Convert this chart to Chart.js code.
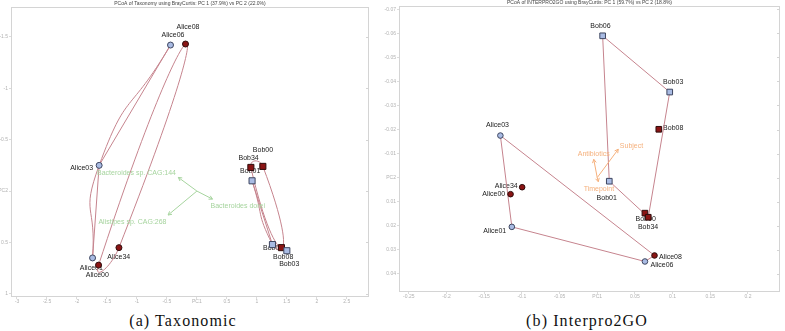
<!DOCTYPE html>
<html><head><meta charset="utf-8">
<script src="https://cdn.jsdelivr.net/npm/chart.js@4.4.0/dist/chart.umd.min.js"></script>
<style>
body{margin:0;background:#fff;width:785px;height:331px;overflow:hidden;position:relative;font-family:"Liberation Sans",Arial,sans-serif}
#c1{position:absolute;left:0;top:0}
#c2{position:absolute;left:372px;top:0}
.cap{position:absolute;font-family:"Liberation Serif","Times New Roman",serif;font-size:16px;line-height:16px;letter-spacing:1.1px;color:#111;white-space:nowrap;transform:translateX(-50%)}
</style></head><body>
<canvas id="c1" width="390" height="306"></canvas>
<canvas id="c2" width="413" height="300"></canvas>
<div class="cap" style="left:183px;top:313px">(a) Taxonomic</div>
<div class="cap" style="left:587px;top:313px">(b) Interpro2GO</div>
<script>
// ---------- data ----------
const samples  = ['Alice00','Alice01','Alice03','Alice06','Alice08','Alice34','Bob00','Bob01','Bob03','Bob06','Bob08','Bob34'];
const subject  = ['Alice','Alice','Alice','Alice','Alice','Alice','Bob','Bob','Bob','Bob','Bob','Bob'];
const darkGroup = [1,0,0,0,1,1, 1,0,0,0,1,1];

const taxPC1 = [-1.64,-1.74,-1.63,-0.44,-0.19,-1.30, 1.10, 0.92, 1.50, 1.26, 1.41, 0.90];
const taxPC2 = [ 0.72, 0.65,-0.25,-1.42,-1.43, 0.55,-0.24,-0.10, 0.58, 0.52, 0.55,-0.23];
const iprPC1 = [-0.1150,-0.1133,-0.1285, 0.0633, 0.0760,-0.0996, 0.0633, 0.0160, 0.0962, 0.0072, 0.0817, 0.0677];
const iprPC2 = [ 0.0069, 0.0205,-0.0175, 0.0349, 0.0324, 0.0040, 0.0148, 0.0015,-0.0356,-0.0590,-0.0201, 0.0165];

const taxTicksX = [-3,-2.5,-2,-1.5,-1,-0.5,0,0.5,1,1.5,2,2.5];
const taxTicksY = [-1.5,-1,-0.5,0,0.5,1];
const iprTicksX = [-0.25,-0.2,-0.15,-0.1,-0.05,0,0.05,0.1,0.15,0.2];
const iprTicksY = [-0.07,-0.06,-0.05,-0.04,-0.03,-0.02,-0.01,0,0.01,0.02,0.03,0.04];

const taxArrowNames = ['Bacteroides sp. CAG:144','Bacteroides dorei','Alistipes sp. CAG:268'];
const taxArrowX = [-0.31, 0.26,-0.48];
const taxArrowY = [-0.133,0.078,0.233];
const iprArrowNames = ['Antibiotics','Subject','Timepoint'];
const iprArrowX = [-0.0046, 0.0279, 0.0014];
const iprArrowY = [-0.0076,-0.0118, 0.0017];

const taxTitle = 'PCoA of Taxonomy using BrayCurtis: PC 1 (37.9%) vs PC 2 (22.0%)';
const iprTitle = 'PCoA of INTERPRO2GO using BrayCurtis: PC 1 (59.7%) vs PC 2 (18.8%)';

// ---------- layout / style (not data) ----------
const LIGHT='#a9bbe3', DARK='#8a1414', CURVE='#c6848e';
const taxLabelPos = {
 Alice00:[-12.7,9.7],Alice01:[-12.7,10],Alice03:[-6,2.6,'right'],Alice06:[-9,-10.3],Alice08:[-9,-16.6],Alice34:[-11.7,9.6],
 Bob00:[-10,-16.3],Bob34:[-12.4,-9.4],Bob01:[-12,-9.7],Bob06:[-9.4,4],Bob08:[-8.4,9.4],Bob03:[-7.7,13.3]};
const iprLabelPos = {
 Bob06:[-12.3,-10],Bob03:[-6.7,-10.3],Bob08:[4.3,-1.6],Bob01:[-12.7,16.4],Bob00:[-9.4,5.7],Bob34:[-10.3,10],
 Alice03:[-14.4,-10],Alice34:[-4.4,-1.6,'right'],Alice00:[-5.3,0,'right'],Alice01:[-5.6,3.7,'right'],Alice08:[4.4,1.6],Alice06:[5.6,3.3]};
const taxArrowLabelPos = [[-2.3,-4.6,'right'],[-2,6.7,'left'],[-1.6,7,'right']];
const iprArrowLabelPos = [[0,-5,'center'],[1.6,-3.6,'left'],[0.6,7.3,'center']];

function fmt(v){ return String(Number(v.toFixed(4))); }

function convexHull(pts){
  const p = pts.slice().sort((a,b)=>a.x-b.x||a.y-b.y);
  const cr=(o,a,b)=>(a.x-o.x)*(b.y-o.y)-(a.y-o.y)*(b.x-o.x);
  const lo=[],up=[];
  for(const q of p){while(lo.length>=2&&cr(lo[lo.length-2],lo[lo.length-1],q)<=0)lo.pop();lo.push(q);}
  for(const q of p.slice().reverse()){while(up.length>=2&&cr(up[up.length-2],up[up.length-1],q)<=0)up.pop();up.push(q);}
  lo.pop();up.pop();return lo.concat(up);
}

function build(canvas, P){
  const pts = samples.map((s,i)=>({x:P.pc1[i], y:P.pc2[i]}));
  const idx = (subj, dark) => samples.map((s,i)=>i).filter(i=>subject[i]===subj && darkGroup[i]===dark);
  const groups = [['Alice',0,'circle',LIGHT],['Alice',1,'circle',DARK],['Bob',0,'rect',LIGHT],['Bob',1,'rect',DARK]];
  const datasets = [];
  groups.forEach(([subj,dark,shape,col])=>{
    datasets.push({data: idx(subj,dark).map(i=>pts[i]), pointStyle:shape,
      pointRadius: shape==='rect'?P.rectR:P.circR, pointBackgroundColor:col,
      pointBorderColor: dark?'#2e0c0c':'#3e4660', pointBorderWidth:1, showLine:false, order:1});
  });
  const lineBase = {showLine:true, pointRadius:0, borderWidth:1, borderColor:CURVE, order:3};
  if(P.mode==='loop'){
    groups.forEach(([subj,dark])=>{
      const g = idx(subj,dark).map(i=>pts[i]).sort((a,b)=>a.y-b.y);
      if(!dark){
        // path along the group's samples, drawn straight and smoothed
        datasets.push({...lineBase, data:g, tension:0});
        datasets.push({...lineBase, data:g, tension:0.6});
      } else {
        const n=g.length; const d=[g[n-1],...g,g[0],g[1]]; const L=d.length;
        datasets.push({...lineBase, data:d, tension:0.8,
          segment:{borderColor: c => (c.p0DataIndex===0 || c.p1DataIndex===L-1) ? 'rgba(0,0,0,0)' : CURVE}});
      }
    });
  } else {
    ['Alice','Bob'].forEach(subj=>{
      const h = convexHull(samples.map((s,i)=>i).filter(i=>subject[i]===subj).map(i=>pts[i]));
      datasets.push({...lineBase, data:[...h,h[0]], tension:0});
    });
  }
  P.arrowX.forEach((ax,k)=>{
    datasets.push({data:[{x:0,y:0},{x:ax,y:P.arrowY[k]}], showLine:true, pointRadius:0, borderWidth:1, borderColor:P.arrowColor, order:2});
  });

  const deco = {
    id:'deco',
    beforeDatasetsDraw(chart){
      const {ctx, chartArea:a, scales:{x,y}} = chart;
      ctx.save();
      ctx.strokeStyle='#d4d4d4'; ctx.lineWidth=1;
      ctx.strokeRect(Math.round(a.left)+0.5, Math.round(a.top)+0.5, Math.round(a.right-a.left)-1, Math.round(a.bottom-a.top)-1);
      ctx.beginPath();
      P.ticksY.forEach(v=>{const py=Math.round(y.getPixelForValue(v))+0.5; ctx.moveTo(a.right-3,py); ctx.lineTo(a.right-1,py);});
      ctx.stroke();
      ctx.font='7px "Liberation Sans", Arial, sans-serif'; ctx.fillStyle='#1a1a1a'; ctx.textBaseline='middle';
      samples.forEach((s,i)=>{const o=P.labelPos[s]; ctx.textAlign=o[2]||'left';
        ctx.fillText(s, x.getPixelForValue(P.pc1[i])+o[0], y.getPixelForValue(P.pc2[i])+o[1]);});
      ctx.restore();
    },
    afterDatasetsDraw(chart){
      const {ctx, scales:{x,y}} = chart;
      ctx.save();
      ctx.strokeStyle=P.arrowColor; ctx.fillStyle=P.arrowColor; ctx.lineWidth=1;
      ctx.font='7px "Liberation Sans", Arial, sans-serif'; ctx.textBaseline='middle';
      const ox=x.getPixelForValue(0), oy=y.getPixelForValue(0);
      P.arrowX.forEach((ax,k)=>{
        const hx=x.getPixelForValue(ax), hy=y.getPixelForValue(P.arrowY[k]);
        const th=Math.atan2(hy-oy,hx-ox);
        ctx.beginPath();
        [0.5,-0.5].forEach(dt=>{ctx.moveTo(hx,hy); ctx.lineTo(hx-4*Math.cos(th+dt), hy-4*Math.sin(th+dt));});
        ctx.stroke();
        const o=P.arrowLabelPos[k]; ctx.textAlign=o[2];
        ctx.fillText(P.arrowNames[k], hx+o[0], hy+o[1]);
      });
      ctx.restore();
    }
  };

  const tickFont={size:5, family:'"Liberation Sans", Arial, sans-serif'};
  return new Chart(canvas,{
    type:'scatter',
    data:{datasets},
    options:{
      responsive:false, animation:false, devicePixelRatio:1,
      layout:{padding:{left:0,right:P.padRight,top:0,bottom:0}},
      plugins:{legend:{display:false}, tooltip:{enabled:false},
        title:{display:true, text:P.title, fullSize:false, color:'#444', font:{size:5, family:'"Liberation Sans", Arial, sans-serif', weight:'normal', lineHeight:1.2}, padding:{top:P.titlePadTop,bottom:0}}},
      scales:{
        x:{type:'linear', min:P.xMin, max:P.xMax,
          afterBuildTicks:s=>{s.ticks=P.ticksX.map(v=>({value:v}));},
          afterFit:s=>{s.height=P.xAxisH;},
          ticks:{font:tickFont, color:'#b2b2b2', padding:0, maxRotation:0, autoSkip:false, callback:v=>v===0?'PC1':fmt(v)},
          grid:{drawOnChartArea:false, tickLength:2, color:'#dcdcdc'}, border:{display:false}},
        y:{type:'linear', min:P.yMin, max:P.yMax, reverse:true,
          afterBuildTicks:s=>{s.ticks=P.ticksY.map(v=>({value:v}));},
          afterFit:s=>{s.width=P.yAxisW;},
          ticks:{font:tickFont, color:'#b2b2b2', padding:1, autoSkip:false, callback:v=>v===0?'PC2':fmt(v)},
          grid:{drawOnChartArea:false, tickLength:2, color:'#dcdcdc'}, border:{display:false}}
      }
    },
    plugins:[deco]
  });
}

build(document.getElementById('c1'),{
  pc1:taxPC1, pc2:taxPC2, ticksX:taxTicksX, ticksY:taxTicksY, title:taxTitle,
  xMin:-3.1, xMax:2.87, yMin:-1.79, yMax:1.03, padRight:21, titlePadTop:1, xAxisH:9, yAxisW:11,
  mode:'loop', rectR:4.3, circR:3,
  arrowX:taxArrowX, arrowY:taxArrowY, arrowNames:taxArrowNames, arrowColor:'#a6d49e', arrowLabelPos:taxArrowLabelPos,
  labelPos:taxLabelPos
});
build(document.getElementById('c2'),{
  pc1:iprPC1, pc2:iprPC2, ticksX:iprTicksX, ticksY:iprTicksY, title:iprTitle,
  xMin:-0.263, xMax:0.2425, yMin:-0.0714, yMax:0.0476, padRight:1, titlePadTop:0, xAxisH:8, yAxisW:27,
  mode:'hull', rectR:4, circR:2.8,
  arrowX:iprArrowX, arrowY:iprArrowY, arrowNames:iprArrowNames, arrowColor:'#f5b07c', arrowLabelPos:iprArrowLabelPos,
  labelPos:iprLabelPos
});
</script>
</body></html>
